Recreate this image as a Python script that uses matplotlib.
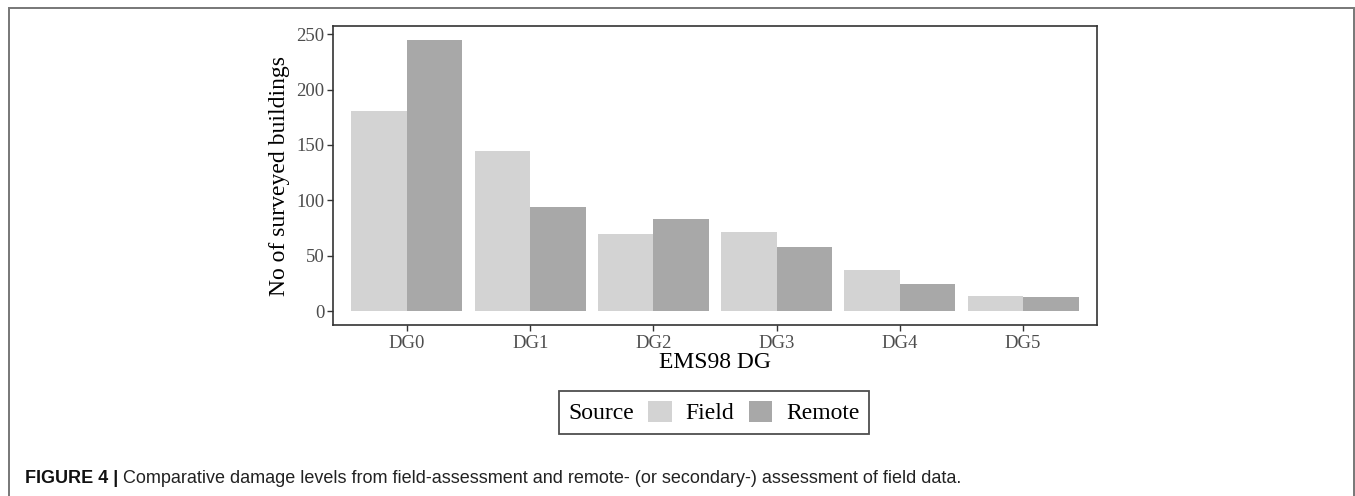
import numpy as np
import matplotlib
matplotlib.use("Agg")
import matplotlib.pyplot as plt
from matplotlib.patches import Rectangle, Patch
from matplotlib.offsetbox import HPacker

categories = ["DG0", "DG1", "DG2", "DG3", "DG4", "DG5"]
field = [181, 145, 70, 72, 37, 14]
remote = [245, 94, 83, 58, 25, 13]
series_names = ["Field", "Remote"]
yticks = [0, 50, 100, 150, 200, 250]

C_FIELD = "#d3d3d3"
C_REMOTE = "#a8a8a8"

W, H = 1355, 496
fig = plt.figure(figsize=(W / 100, H / 100), dpi=100)

def px(x0, y0, x1, y1):
    return [x0 / W, 1 - y1 / H, (x1 - x0) / W, (y1 - y0) / H]

ax = fig.add_axes(px(333, 26, 1097, 325))
x = np.arange(len(categories))
bw = 0.45
ax.bar(x - bw / 2, field, width=bw, color=C_FIELD, label=series_names[0])
ax.bar(x + bw / 2, remote, width=bw, color=C_REMOTE, label=series_names[1])

ax.set_xlim(-0.6, len(categories) - 0.4)
top = max(max(field), max(remote))
ax.set_ylim(-0.05 * top, 1.05 * top)
ax.set_xticks(x)
ax.set_xticklabels(categories)
ax.set_yticks(yticks)

serif = "Liberation Serif"
for lab in ax.get_xticklabels() + ax.get_yticklabels():
    lab.set_fontfamily(serif)
    lab.set_fontsize(13.5)
    lab.set_color("#4d4d4d")
ax.tick_params(axis="both", length=4, width=1.0, color="#333333", pad=2)
ax.tick_params(axis="x", pad=3)
for s in ax.spines.values():
    s.set_color("#333333")
    s.set_linewidth(1.2)

ax.set_ylabel("No of surveyed buildings", fontfamily=serif, fontsize=17, color="black", labelpad=5)
ax.set_xlabel("EMS98 DG", fontfamily=serif, fontsize=17, color="black", labelpad=0)

fs = 17
handles = [Patch(facecolor=C_FIELD, edgecolor="none"), Patch(facecolor=C_REMOTE, edgecolor="none")]
leg = fig.legend(handles, series_names, loc="center", bbox_to_anchor=(714 / W, 1 - 412.5 / H),
                 ncol=2, title="Source", frameon=True, fancybox=False,
                 prop={"family": serif, "size": fs}, title_fontproperties={"family": serif, "size": fs},
                 handlelength=1.0, handleheight=1.0, handletextpad=0.6, columnspacing=0.6,
                 borderpad=0.4, borderaxespad=0)
leg.get_frame().set_edgecolor("#222222")
leg.get_frame().set_linewidth(1.3)
# place legend title to the left of the keys (ggplot style)
newbox = HPacker(pad=leg.borderpad * fs, sep=10, align="baseline",
                 children=[leg._legend_title_box, leg._legend_handle_box])
newbox.set_figure(fig)
leg._legend_box = newbox
leg._set_loc(leg._loc)

# outer frame
fig.patches.append(Rectangle((9 / W, -0.1), (1354 - 9) / W, 1.1 - 8 / H, transform=fig.transFigure,
                             fill=False, edgecolor="#777777", linewidth=1.4))

# caption
renderer = fig.canvas.get_renderer()
cap_y = 1 - 483 / H
cfs = 13
t1 = fig.text(25 / W, cap_y, "FIGURE 4 |", fontfamily="Liberation Sans", fontweight="bold",
              fontsize=cfs, va="baseline", ha="left", color="#111111")
bb = t1.get_window_extent(renderer)
fig.text(bb.x1 / W + 5 / W, cap_y,
         "Comparative damage levels from field-assessment and remote- (or secondary-) assessment of field data.",
         fontfamily="Liberation Sans", fontsize=cfs, va="baseline", ha="left", color="#222222")

fig.savefig("out.png", dpi=100)
